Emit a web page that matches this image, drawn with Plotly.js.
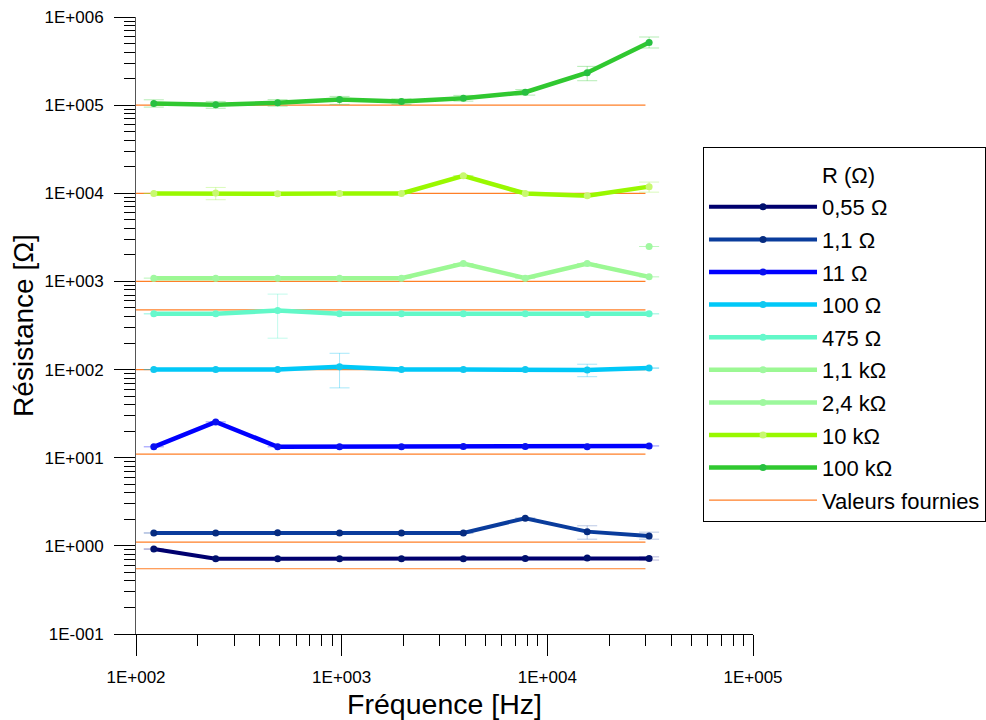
<!DOCTYPE html>
<html>
<head>
<meta charset="utf-8">
<script src="https://cdn.plot.ly/plotly-3.0.1.min.js"></script>
<style>html,body{margin:0;padding:0;background:#fff;}#chart{width:986px;height:720px;}</style>
</head>
<body>
<div id="chart"></div>
<script>
// Frequencies (Hz)
var freq = [122.0703125, 244.140625, 488.28125, 976.5625, 1953.125, 3906.25, 7812.5, 15625, 31250];

// Measured resistances (Ohm)
var r_055 = [0.92, 0.716, 0.716, 0.716, 0.716, 0.716, 0.72, 0.726, 0.72];
var r_1_1 = [1.40, 1.40, 1.41, 1.40, 1.40, 1.40, 2.06, 1.45, 1.29];
var r_11 = [13.3, 25.5, 13.3, 13.3, 13.3, 13.4, 13.4, 13.3, 13.6];
var r_100 = [100, 100, 100, 108, 100, 100, 100, 99, 104];
var r_475 = [429, 429, 468, 429, 429, 429, 429, 421, 429];
var r_1k1 = [1090, 1090, 1090, 1090, 1090, 1596, 1090, 1596, 1127];
var r_2k4 = [null, null, null, null, null, null, null, null, 2490];
var r_10k = [9950, 10050, 9900, 9950, 9950, 15800, 9950, 9380, 11900];
var r_100k = [104500, 101200, 106400, 116000, 110000, 120000, 140000, 233300, 515000];

// Error bars (plus / minus)
var e_055_p = [0, 0, 0, 0, 0, 0, 0, 0, 0.03];
var e_055_m = [0, 0, 0, 0, 0, 0, 0, 0, 0.03];
var e_1_1_p = [0, 0, 0, 0, 0, 0, 0, 0.24, 0.14];
var e_1_1_m = [0, 0, 0, 0, 0, 0, 0, 0.26, 0.10];
var e_11_p = [0, 0, 0, 0, 0, 0, 0, 0, 0];
var e_11_m = [0, 0, 0, 0, 0, 0, 0, 0, 0];
var e_100_p = [0, 0, 0, 45, 0, 0, 0, 16, 0];
var e_100_m = [0, 0, 0, 46, 0, 0, 0, 16, 0];
var e_475_p = [0, 0, 250, 0, 0, 0, 0, 0, 0];
var e_475_m = [0, 0, 241, 0, 0, 0, 0, 0, 0];
var e_1k1_p = [0, 0, 0, 0, 0, 0, 0, 0, 0];
var e_1k1_m = [0, 0, 0, 0, 0, 0, 0, 0, 0];
var e_2k4_p = [0, 0, 0, 0, 0, 0, 0, 0, 0];
var e_2k4_m = [0, 0, 0, 0, 0, 0, 0, 0, 0];
var e_10k_p = [0, 1600, 0, 0, 0, 0, 0, 0, 1500];
var e_10k_m = [0, 1600, 0, 0, 0, 0, 0, 0, 1600];
var e_100k_p = [10500, 9000, 9000, 9600, 8000, 9000, 10000, 42000, 78000];
var e_100k_m = [9500, 9000, 9000, 14000, 8000, 9000, 10000, 44000, 70000];

// Supplied (nominal) values and the frequency span of their lines
var nominal = [0.55, 1.1, 11, 100, 475, 1000, 10000, 100000];
var nominalSpan = [100, 30000];

// Legend labels
var legendTitle = "R (\u03A9)";
var names = ["0,55 \u03A9", "1,1 \u03A9", "11 \u03A9", "100 \u03A9", "475 \u03A9", "1,1 k\u03A9", "2,4 k\u03A9", "10 k\u03A9", "100 k\u03A9"];
var nominalName = "Valeurs fournies";

// Tick labels
var xTickVals = [100, 1000, 10000, 100000];
var xTickText = ["1E+002", "1E+003", "1E+004", "1E+005"];
var yTickVals = [0.1, 1, 10, 100, 1000, 10000, 100000, 1000000];
var yTickText = ["1E-001", "1E+000", "1E+001", "1E+002", "1E+003", "1E+004", "1E+005", "1E+006"];

// Styles
var lineColors = ["#00006e", "#0a3c9c", "#0000ff", "#00c8f8", "#62f8c8", "#9cf894", "#9cf89c", "#99f800", "#30c830"];
var markerColors = ["#00106e", "#062c80", "#0a10f0", "#10c8f0", "#66f8cc", "#a0f8a0", "#a0f8a0", "#c8f870", "#28c040"];
var errColors = ["rgba(60,60,160,0.35)", "rgba(60,100,180,0.35)", "rgba(80,80,255,0.35)", "rgba(0,190,240,0.35)", "rgba(80,240,200,0.35)", "rgba(140,240,140,0.35)", "rgba(140,240,140,0.35)", "rgba(150,240,60,0.35)", "rgba(40,200,40,0.35)"];
var lineWidths = [4, 4, 4.5, 4.5, 4.5, 4.5, 4.5, 4.5, 4.5];

var series = [r_055, r_1_1, r_11, r_100, r_475, r_1k1, r_2k4, r_10k, r_100k];
var errP = [e_055_p, e_1_1_p, e_11_p, e_100_p, e_475_p, e_1k1_p, e_2k4_p, e_10k_p, e_100k_p];
var errM = [e_055_m, e_1_1_m, e_11_m, e_100_m, e_475_m, e_1k1_m, e_2k4_m, e_10k_m, e_100k_m];

var traces = [];

// nominal lines (drawn first, under the data)
var nx = [], ny = [];
nominal.forEach(function (v) {
  nx.push(nominalSpan[0], nominalSpan[1], null);
  ny.push(v, v, null);
});
traces.push({
  x: nx, y: ny, mode: 'lines', name: nominalName,
  line: {color: '#ff7f27', width: 1.2},
  legendrank: 2000, legendgroup: 'nom', connectgaps: false,
  hoverinfo: 'skip'
});

// legend title row as a blank entry
traces.push({
  x: [null], y: [null], mode: 'lines', name: legendTitle,
  line: {color: 'rgba(0,0,0,0)', width: 1},
  legendrank: 1, legendgroup: 'title', hoverinfo: 'skip'
});

series.forEach(function (vals, i) {
  traces.push({
    x: freq, y: vals, mode: 'lines+markers', name: names[i],
    line: {color: lineColors[i], width: lineWidths[i]},
    marker: {color: markerColors[i], size: 7, symbol: 'circle'},
    error_y: {type: 'data', symmetric: false, array: errP[i], arrayminus: errM[i],
      color: errColors[i], thickness: 1, width: 10},
    legendrank: 10 + i, legendgroup: 'g' + i, connectgaps: false,
    hoverinfo: 'skip'
  });
});

function minorVals(lo, hi) {
  var out = [];
  for (var k = lo; k < hi; k++) {
    for (var d = 2; d <= 9; d++) out.push(d * Math.pow(10, k));
  }
  return out;
}

var font = 'Liberation Sans, Arial, sans-serif';

var layout = {
  width: 986, height: 720,
  margin: {l: 136, r: 233, t: 17, b: 86, autoexpand: false},
  paper_bgcolor: '#fff', plot_bgcolor: '#fff',
  font: {family: font, color: '#000', size: 17},
  showlegend: true,
  hovermode: false,
  xaxis: {
    type: 'log', range: [2, 5],
    tickmode: 'array', tickvals: xTickVals, ticktext: xTickText,
    ticks: 'outside', ticklen: 21, tickwidth: 1, tickcolor: '#000',
    ticklabelstandoff: 7,
    showline: true, linecolor: '#000', linewidth: 1,
    showgrid: false, zeroline: false,
    tickfont: {size: 17, family: font},
    minor: {tickmode: 'array', tickvals: minorVals(2, 5), ticks: 'outside', ticklen: 11, tickwidth: 1, tickcolor: '#000', showgrid: false},
    title: {text: 'Fréquence [Hz]', font: {size: 28.5, family: font}, standoff: 8},
    automargin: false
  },
  yaxis: {
    type: 'log', range: [-1, 6],
    tickmode: 'array', tickvals: yTickVals, ticktext: yTickText,
    ticks: 'outside', ticklen: 21, tickwidth: 1, tickcolor: '#000',
    ticklabelstandoff: 7,
    showline: true, linecolor: '#555', linewidth: 1,
    showgrid: false, zeroline: false,
    tickfont: {size: 17, family: font},
    minor: {tickmode: 'array', tickvals: minorVals(-1, 6), ticks: 'outside', ticklen: 11, tickwidth: 1, tickcolor: '#000', showgrid: false},
    title: {text: 'Résistance [\u03A9]', font: {size: 28, family: font}, standoff: 2},
    automargin: false
  },
  legend: {
    x: 0.919, y: 0.789, xanchor: 'left', yanchor: 'top',
    bgcolor: '#fff', bordercolor: '#000', borderwidth: 1,
    font: {size: 22, family: font, color: '#000'},
    title: {text: ' ', font: {size: 4}},
    itemwidth: 108, tracegroupgap: 1,
    traceorder: 'grouped'
  }
};

Plotly.newPlot('chart', traces, layout, {displayModeBar: false, staticPlot: true});
</script>
</body>
</html>
